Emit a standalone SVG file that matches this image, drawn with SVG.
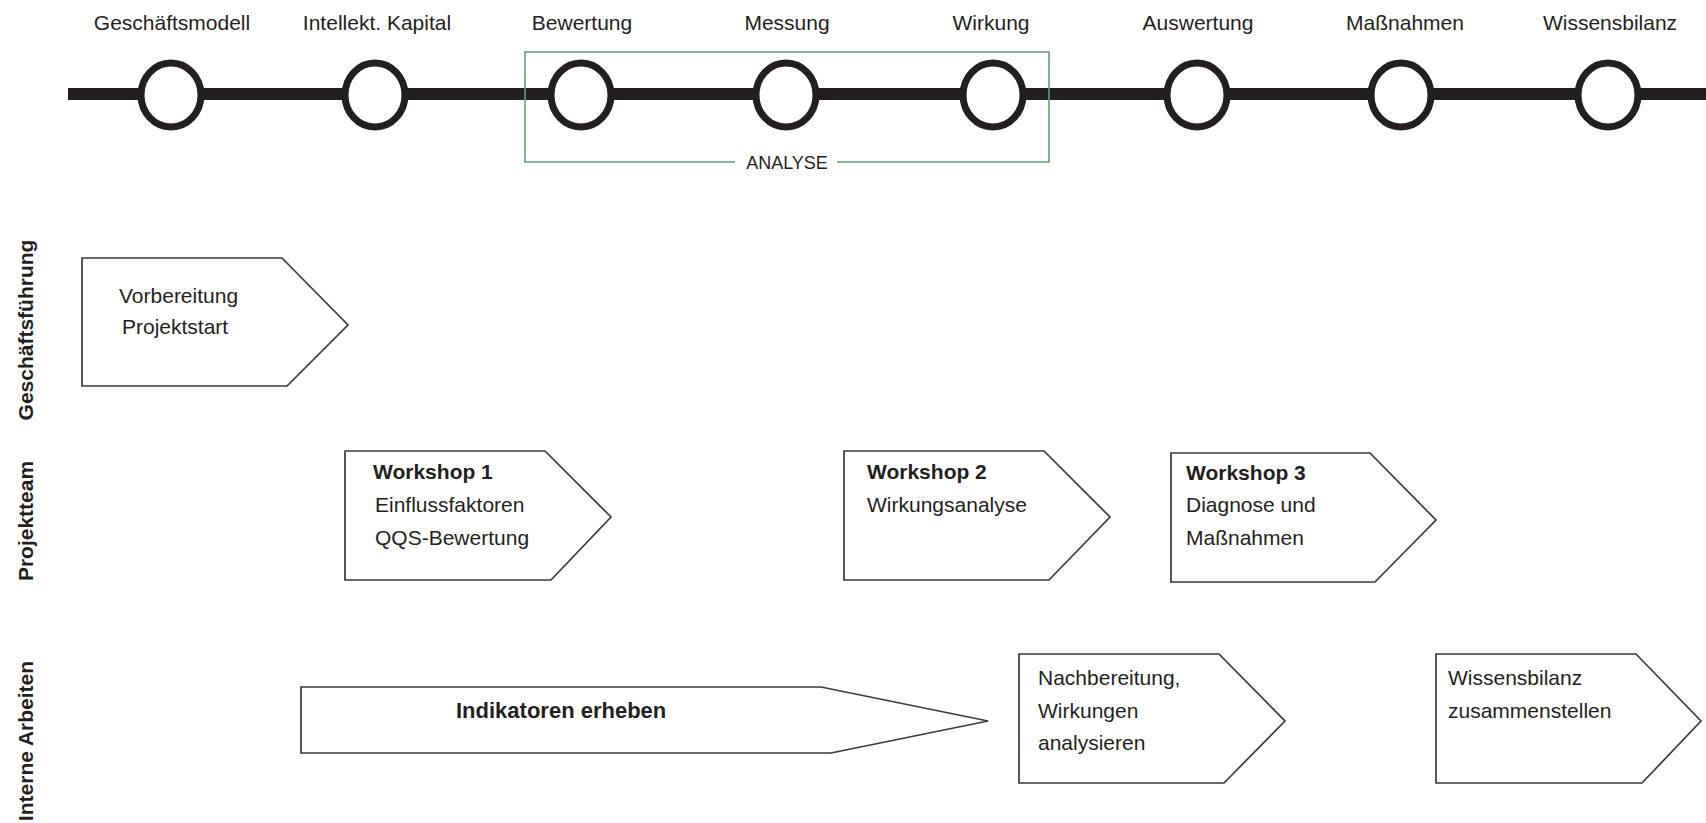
<svg xmlns="http://www.w3.org/2000/svg" width="1706" height="823" viewBox="0 0 1706 823">
<style>
.lbl{font-family:"Liberation Sans",Arial,sans-serif;font-size:21px;fill:#231f20}
.txt{font-family:"Liberation Sans",Arial,sans-serif;font-size:21px;fill:#231f20}
.b{font-weight:bold}
.lane{font-family:"Liberation Sans",Arial,sans-serif;font-size:21px;font-weight:bold;fill:#231f20}
.ms{fill:#fff;stroke:#231f20;stroke-width:7}
.box{fill:#fff;stroke:#3a3a3a;stroke-width:1.7;stroke-linejoin:miter}
.grp{fill:none;stroke:#5f9f70;stroke-width:1.6}
</style>
<rect width="1706" height="823" fill="#fff"/>
<g id="connectors">
<rect x="68" y="88" width="1638" height="12" fill="#231f20"/>
</g>
<g id="analyse">
<path class="grp" d="M735,162 H525 V52 H1049 V162 H837"/>
<text class="lbl" x="787" y="169" text-anchor="middle" style="font-size:18px">ANALYSE</text>
</g>
<g id="m1"><text class="lbl" x="172" y="30" text-anchor="middle">Geschäftsmodell</text><ellipse class="ms" cx="171" cy="95" rx="30" ry="32"/></g>
<g id="m2"><text class="lbl" x="377" y="30" text-anchor="middle">Intellekt. Kapital</text><ellipse class="ms" cx="375" cy="95" rx="30" ry="32"/></g>
<g id="m3"><text class="lbl" x="582" y="30" text-anchor="middle">Bewertung</text><ellipse class="ms" cx="581" cy="95" rx="30" ry="32"/></g>
<g id="m4"><text class="lbl" x="787" y="30" text-anchor="middle">Messung</text><ellipse class="ms" cx="786" cy="95" rx="30" ry="32"/></g>
<g id="m5"><text class="lbl" x="991" y="30" text-anchor="middle">Wirkung</text><ellipse class="ms" cx="993" cy="95" rx="30" ry="32"/></g>
<g id="m6"><text class="lbl" x="1198" y="30" text-anchor="middle">Auswertung</text><ellipse class="ms" cx="1197" cy="95" rx="30" ry="32"/></g>
<g id="m7"><text class="lbl" x="1405" y="30" text-anchor="middle">Maßnahmen</text><ellipse class="ms" cx="1401" cy="95" rx="30" ry="32"/></g>
<g id="m8"><text class="lbl" x="1610" y="30" text-anchor="middle">Wissensbilanz</text><ellipse class="ms" cx="1608" cy="95" rx="30" ry="32"/></g>
<g id="lanes">
<text class="lane" transform="translate(33,330) rotate(-90)" text-anchor="middle">Geschäftsführung</text>
<text class="lane" transform="translate(33,521) rotate(-90)" text-anchor="middle">Projektteam</text>
<text class="lane" transform="translate(33,741) rotate(-90)" text-anchor="middle">Interne Arbeiten</text>
</g>
<g id="vorbereitung">
<path class="box" d="M82,258 H282 L348,325 L287,386 H82 Z"/>
<text class="txt" x="119" y="303">Vorbereitung</text>
<text class="txt" x="122" y="334">Projektstart</text>
</g>
<g id="workshop1">
<path class="box" d="M345,451 H545 L611,517 L551,580 H345 Z"/>
<text class="txt b" x="373" y="479">Workshop 1</text>
<text class="txt" x="375" y="512">Einflussfaktoren</text>
<text class="txt" x="375" y="545">QQS-Bewertung</text>
</g>
<g id="workshop2">
<path class="box" d="M844,451 H1044 L1110,517 L1049,580 H844 Z"/>
<text class="txt b" x="867" y="479">Workshop 2</text>
<text class="txt" x="867" y="512">Wirkungsanalyse</text>
</g>
<g id="workshop3">
<path class="box" d="M1171,453 H1370 L1436,520 L1375,582 H1171 Z"/>
<text class="txt b" x="1186" y="480">Workshop 3</text>
<text class="txt" x="1186" y="512">Diagnose und</text>
<text class="txt" x="1186" y="545">Maßnahmen</text>
</g>
<g id="indikatoren">
<path class="box" d="M301,687 H821 L988,721 L831,753 H301 Z"/>
<text class="txt b" x="456" y="718" style="font-size:22px">Indikatoren erheben</text>
</g>
<g id="nachbereitung">
<path class="box" d="M1019,654 H1219 L1285,721 L1224,783 H1019 Z"/>
<text class="txt" x="1038" y="685">Nachbereitung,</text>
<text class="txt" x="1038" y="718">Wirkungen</text>
<text class="txt" x="1038" y="750">analysieren</text>
</g>
<g id="wissensbilanz">
<path class="box" d="M1436,654 H1636 L1701,721 L1642,783 H1436 Z"/>
<text class="txt" x="1448" y="685">Wissensbilanz</text>
<text class="txt" x="1448" y="718">zusammenstellen</text>
</g>
</svg>
